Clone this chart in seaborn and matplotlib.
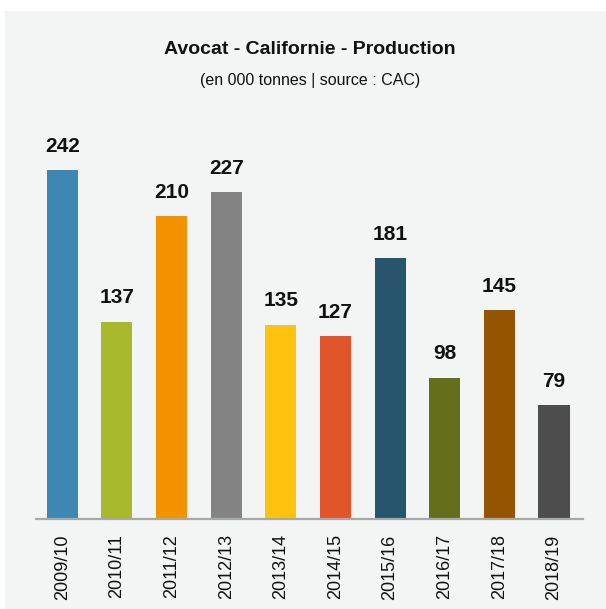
### Imports of the program
import matplotlib
matplotlib.use('Agg')
import matplotlib.pyplot as plt
from matplotlib.patches import Rectangle
import pandas as pd
import seaborn as sns

### Chart data
seasons = ['2009/10', '2010/11', '2011/12', '2012/13', '2013/14',
           '2014/15', '2015/16', '2016/17', '2017/18', '2018/19']
production = [242, 137, 210, 227, 135, 127, 181, 98, 145, 79]
bar_colors = ['#3d88b2', '#a8b92b', '#f39200', '#838383', '#ffc20e',
              '#e0562a', '#27566c', '#646f1b', '#945400', '#4d4d4d']

title = 'Avocat - Californie - Production'
subtitle = '(en 000 tonnes | source : CAC)'


def main():
    data = pd.DataFrame({'season': seasons, 'value': production})

    sns.set_theme(style='white')
    plt.rcParams['font.family'] = ['Liberation Sans', 'DejaVu Sans']

    fig = plt.figure(figsize=(6.06, 6.09), dpi=100, facecolor='white')
    ## light gray panel behind the chart
    fig.patches.append(Rectangle((5 / 606, 0), 1, 1 - 11 / 609,
                                 transform=fig.transFigure,
                                 facecolor='#f3f4f4', edgecolor='none',
                                 zorder=-10))
    ax = fig.add_axes([36 / 606, 90 / 609, 547 / 606, 389 / 609])
    ax.set_facecolor('none')

    sns.barplot(data=data, x='season', y='value', hue='season',
                palette=bar_colors, width=0.57, legend=False,
                saturation=1, linewidth=0, ax=ax)

    ax.set_xlim(-0.48, 9.53)
    ax.set_ylim(0, 270)

    ## value labels above bars
    for i, v in enumerate(production):
        ax.text(i, v + 10, str(v), ha='center', va='bottom',
                fontsize=15, fontweight='bold', color='#111111')

    for side in ['top', 'right', 'left']:
        ax.spines[side].set_visible(False)
    ax.spines['bottom'].set_color('#a8a8a8')
    ax.spines['bottom'].set_linewidth(1.6)
    ax.set_yticks([])
    ax.set_xlabel('')
    ax.set_ylabel('')
    ax.tick_params(axis='x', length=0, pad=11, labelsize=13,
                   labelcolor='#111111')
    plt.setp(ax.get_xticklabels(), rotation=90)

    fig.text(0.512, 1 - 50 / 609, title, ha='center', va='center',
             fontsize=14, fontweight='bold', color='#111111')
    fig.text(0.512, 1 - 80 / 609, subtitle, ha='center', va='center',
             fontsize=11.5, color='#111111')

    fig.savefig('out.png', dpi=100, facecolor='white')


if __name__ == '__main__':
    main()
